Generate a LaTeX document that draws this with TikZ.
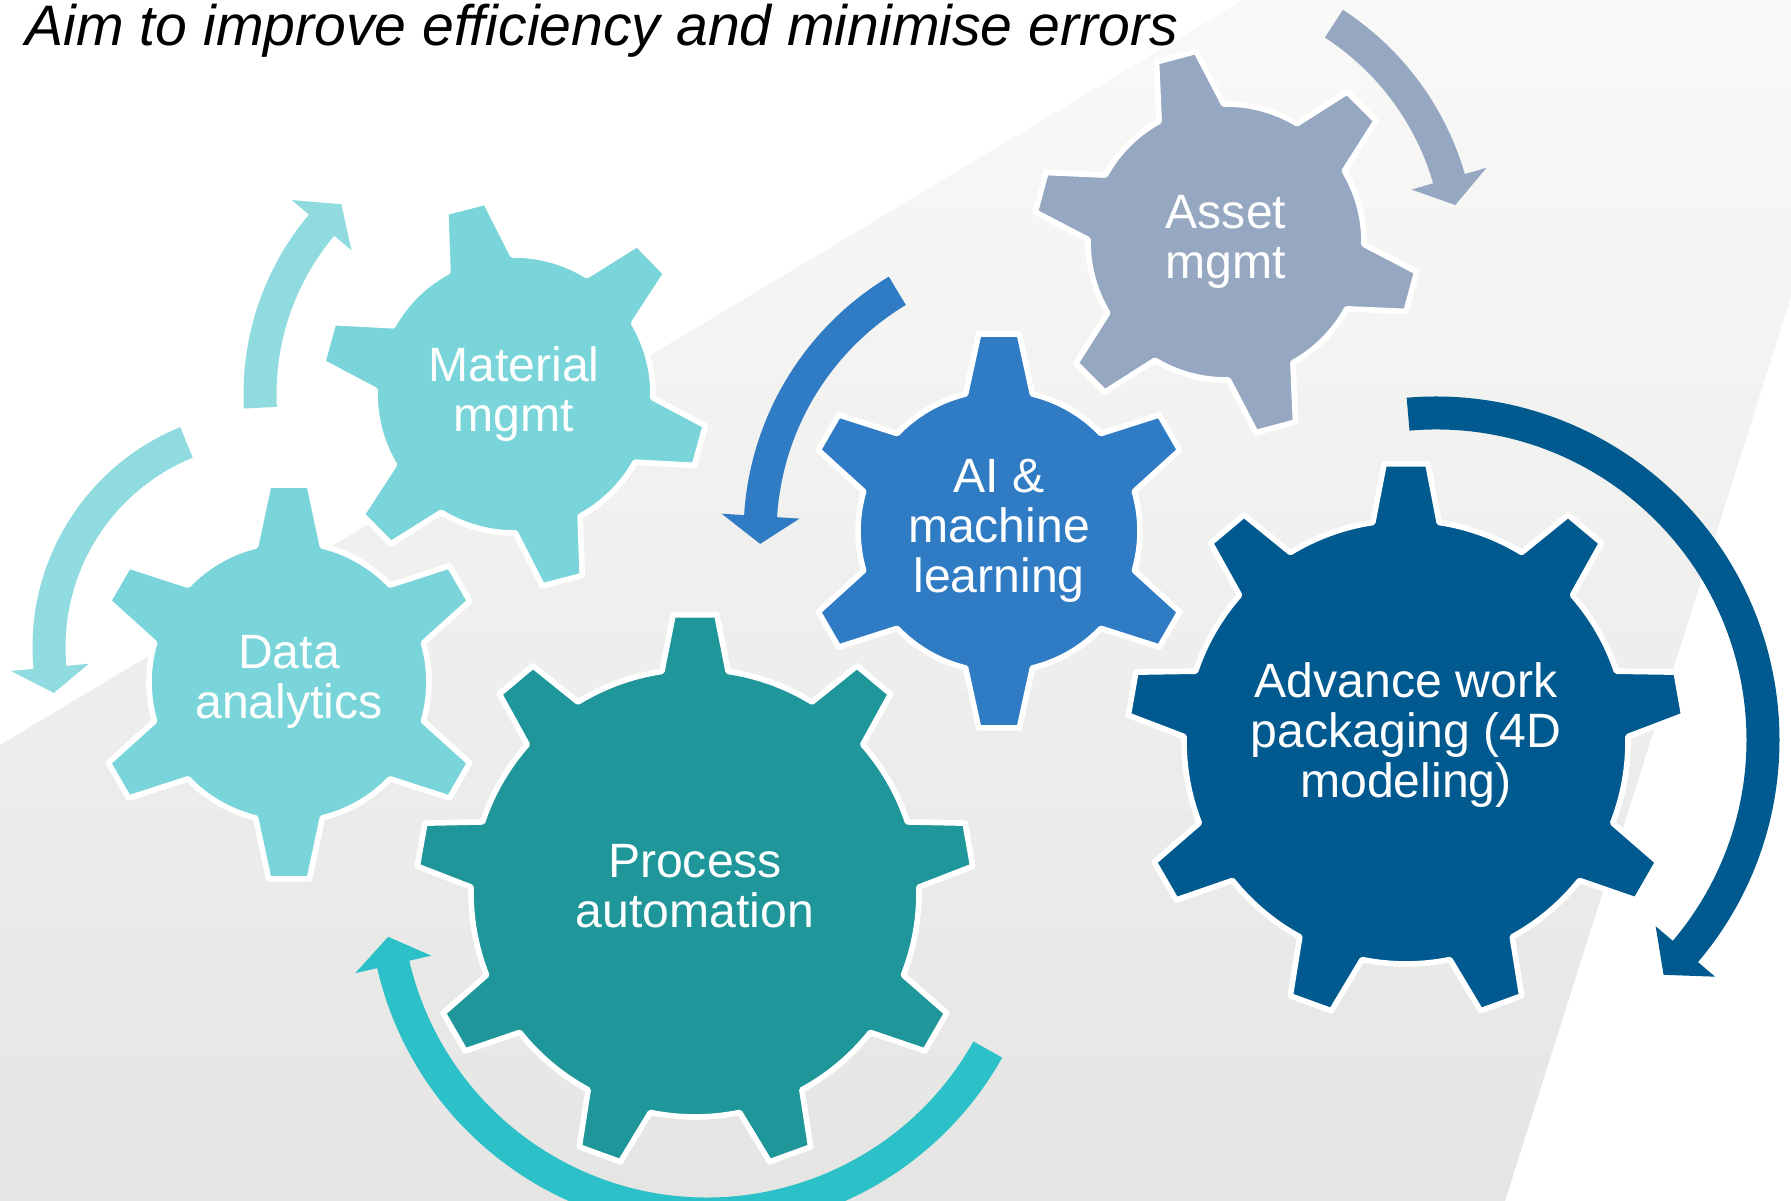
\documentclass[tikz,border=0pt]{standalone}
\usepackage{fontspec}
\setmainfont{Liberation Sans}

\definecolor{bgtop}{HTML}{F9F9F8}
\definecolor{bgbottom}{HTML}{E5E5E3}
\definecolor{lightteal}{HTML}{79D5D9}
\definecolor{paleteal}{HTML}{8FDBDF}
\definecolor{aiblue}{HTML}{2F7BC4}
\definecolor{assetgrey}{HTML}{96A7C1}
\definecolor{procteal}{HTML}{1F9699}
\definecolor{procarrow}{HTML}{2CC1C8}
\definecolor{advblue}{HTML}{005A8F}

\begin{document}
\begin{tikzpicture}[x=0.1mm, y=0.1mm,
    gear/.style={draw=white, line width=1.6pt, line join=round},
    gearlabel/.style={text=white, align=center, font=\fontsize{13.7}{14.3}\selectfont}]

    \useasboundingbox (0,0) rectangle (1791,1201);
    \clip (0,0) rectangle (1791,1201);

    % grey backdrop
    \shade[top color=bgtop, bottom color=bgbottom]
        (1243,1201) -- (1791,1201) -- (1791,904) -- (1505,0) -- (0,0) -- (0,456) -- cycle;

    % circular arrows: centre, radius, start, shaft end, tip
    \foreach \cx/\cy/\rad/\sa/\ea/\tip/\acol in {
        1183/945/277/57/16.2/10.6/assetgrey,
        522/807/262/183/139.9/133.6/paleteal,
        270/554/221/112.2/185.3/192/paleteal,
        1044/667/284/121.1/176.4/182/aiblue,
        1436/461/327/94.9/-40.3/-45.9/advblue,
        707/309/322/-29.3/-167/-172/procarrow}
        \fill[\acol, shift={(\cx,\cy)}]
            ({\sa}:{\rad-16.5}) arc[start angle=\sa, end angle=\ea, radius={\rad-16.5}]
            -- ({\ea}:{\rad-39}) -- ({\tip}:\rad) -- ({\ea}:{\rad+39})
            -- ({\ea}:{\rad+16.5}) arc[start angle=\ea, end angle=\sa, radius={\rad+16.5}]
            -- cycle;

    % gears: centre, teeth, rotation, body radius, tip radius, half angles
    \foreach \cx/\cy/\nt/\rot/\rb/\rt/\wb/\wt/\gcol in {
        289/519/6/90/140/198/13.8/5.9/lightteal,
        514/807/6/104.5/139/194/13.9/6.1/lightteal,
        999/670/6/90/141/198/13.7/5.9/aiblue,
        1226/959/6/105/138/193/14/6.1/assetgrey,
        695/308/9/90/224/279/8.5/4.5/procteal,
        1406/459/9/90/222/279/8.6/4.5/advblue}
        \path[gear, fill=\gcol, shift={(\cx,\cy)}]
            ({\rot-\wb}:\rb)
            \foreach \k in {1,...,\nt} {
                -- ({\rot+(\k-1)*360/\nt-\wt}:\rt)
                -- ({\rot+(\k-1)*360/\nt+\wt}:\rt)
                -- ({\rot+(\k-1)*360/\nt+\wb}:\rb)
                arc[start angle={\rot+(\k-1)*360/\nt+\wb}, end angle={\rot+\k*360/\nt-\wb}, radius=\rb]
            } -- cycle;

    \node[gearlabel] (lblData) at (289,519) {Data\\analytics};
    \node[gearlabel] (lblMat) at (514,807) {Material\\mgmt};
    \node[gearlabel] (lblAI) at (999,670) {AI \&\\machine\\learning};
    \node[gearlabel] (lblAsset) at (1226,959) {Asset\\mgmt};
    \node[gearlabel] (lblProc) at (695,315) {Process\\automation};
    \node[gearlabel] (lblAdv) at (1406,466) {Advance work\\packaging (4D\\modeling)};

    \node[anchor=base west, inner sep=0pt, font=\fontsize{16.25}{18}\selectfont\itshape] (title)
        at (25,1155) {Aim to improve efficiency and minimise errors};
\end{tikzpicture}
\end{document}
